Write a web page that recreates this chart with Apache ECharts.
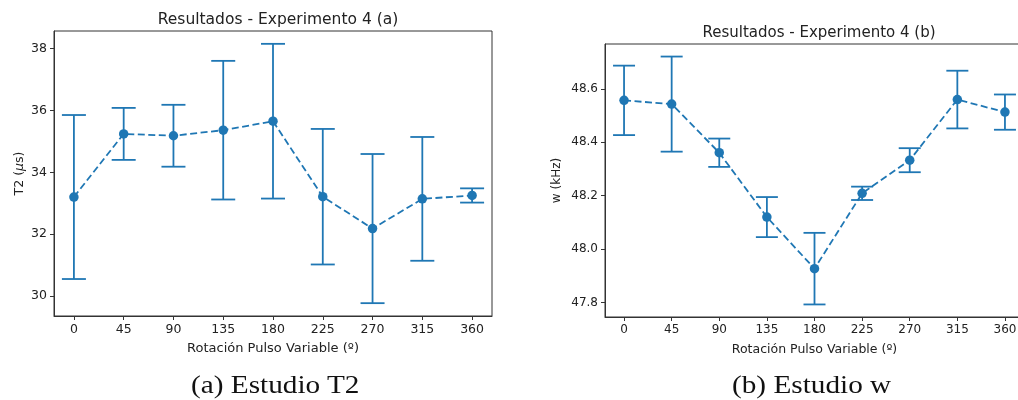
<!DOCTYPE html>
<html>
<head>
<meta charset="utf-8">
<script src="https://cdn.jsdelivr.net/npm/echarts@6/dist/echarts.min.js"></script>
<style>
html,body{margin:0;padding:0;background:#fff;}
#c{width:1018px;height:400px;position:relative;overflow:hidden;}
.cap{position:absolute;font-family:"Liberation Serif","DejaVu Serif",serif;font-size:25px;color:#111;transform-origin:0 0;white-space:nowrap;}
</style>
</head>
<body>
<div id="c"></div>
<script>
// ---- data ----
const angles = [0, 45, 90, 135, 180, 225, 270, 315, 360];
const t2Mean = [33.20, 35.24, 35.18, 35.36, 35.65, 33.21, 32.18, 33.14, 33.25];
const t2Err  = [2.65, 0.84, 1.00, 2.24, 2.50, 2.19, 2.41, 2.00, 0.23];
const wMean  = [48.557, 48.543, 48.361, 48.120, 47.927, 48.209, 48.333, 48.560, 48.513];
const wErr   = [0.130, 0.178, 0.053, 0.075, 0.134, 0.025, 0.045, 0.108, 0.066];
const xTicks = [0, 45, 90, 135, 180, 225, 270, 315, 360];
const t2Ticks = [30, 32, 34, 36, 38];
const wTicks = [47.8, 48.0, 48.2, 48.4, 48.6];
const titleA = 'Resultados - Experimento 4 (a)';
const titleB = 'Resultados - Experimento 4 (b)';
const xName = 'Rotación Pulso Variable (º)';
const captionA = '(a) Estudio T2';
const captionB = '(b) Estudio w';

const C0 = '#1f77b4';
const spine = '#333333';
const txt = '#222222';
const font = 'DejaVu Sans';

function errData(m, e){ return angles.map((a,i)=>[a, m[i]-e[i], m[i]+e[i]]); }
function lineData(m){ return angles.map((a,i)=>[a, m[i]]); }

function errRender(half){
  return function(params, api){
    const x = api.value(0), lo = api.value(1), hi = api.value(2);
    const p1 = api.coord([x, lo]), p2 = api.coord([x, hi]);
    const st = {stroke: C0, lineWidth: 1.8};
    return {type:'group', children:[
      {type:'line', shape:{x1:p1[0],y1:p1[1],x2:p2[0],y2:p2[1]}, style:st},
      {type:'line', shape:{x1:p1[0]-half,y1:p1[1],x2:p1[0]+half,y2:p1[1]}, style:st},
      {type:'line', shape:{x1:p2[0]-half,y1:p2[1],x2:p2[0]+half,y2:p2[1]}, style:st}
    ]};
  };
}

function xAxisDef(idx, fs){
  return {
    type:'value', gridIndex: idx, min:-18, max:378,
    name: xName, nameLocation:'middle', nameGap: 26,
    nameTextStyle:{fontFamily:font, fontSize:fs+0.5, color:txt},
    axisLine:{show:true, onZero:false, lineStyle:{color:spine, width:1}},
    axisTick:{show:true, length:4, customValues: xTicks, lineStyle:{color:spine}},
    axisLabel:{customValues: xTicks, fontFamily:font, fontSize:fs, color:txt, margin:7},
    splitLine:{show:false}
  };
}
function yAxisDef(idx, min, max, ticks, name, gap, dec, fs, rich){
  return {
    type:'value', gridIndex: idx, min:min, max:max,
    name: name, nameLocation:'middle', nameGap: gap, nameRotate: 90,
    nameTextStyle:{fontFamily:font, fontSize:fs, color:txt, rich: rich},
    axisLine:{show:true, onZero:false, lineStyle:{color:spine, width:1}},
    axisTick:{show:true, length:4, customValues: ticks, lineStyle:{color:spine}},
    axisLabel:{customValues: ticks, fontFamily:font, fontSize:fs, color:txt, margin:7,
      formatter: v => dec ? v.toFixed(dec) : String(Math.round(v))},
    splitLine:{show:false}
  };
}

const chart = echarts.init(document.getElementById('c'), null, {renderer:'canvas'});
chart.setOption({
  animation:false,
  backgroundColor:'#fff',
  title:[
    {text:titleA, left:273, top:7, textAlign:'center', textStyle:{fontFamily:font, fontSize:15.5, fontWeight:'normal', color:txt}},
    {text:titleB, left:814, top:21, textAlign:'center', textStyle:{fontFamily:font, fontSize:15, fontWeight:'normal', color:txt}}
  ],
  grid:[
    {left:54, width:438, top:31, height:285, show:true, borderColor:spine, borderWidth:1, containLabel:false, outerBoundsMode:'none'},
    {left:605, width:419, top:44, height:273, show:true, borderColor:spine, borderWidth:1, containLabel:false, outerBoundsMode:'none'}
  ],
  xAxis:[xAxisDef(0, 12.5), xAxisDef(1, 12)],
  yAxis:[
    yAxisDef(0, 29.355, 38.565, t2Ticks, 'T2 ({i|μ}s)', 28, 0, 12.5, {i:{fontStyle:'italic', fontFamily:font, fontSize:12.5, color:txt}}),
    yAxisDef(1, 47.746, 48.768, wTicks, 'w (kHz)', 42, 1, 12, {})
  ],
  series:[
    {type:'custom', xAxisIndex:0, yAxisIndex:0, renderItem: errRender(12), data: errData(t2Mean, t2Err), z:2},
    {type:'line', xAxisIndex:0, yAxisIndex:0, data: lineData(t2Mean), symbol:'circle', symbolSize:9.5,
      lineStyle:{color:C0, width:1.8, type:[7,3.5]}, itemStyle:{color:C0}, z:3},
    {type:'custom', xAxisIndex:1, yAxisIndex:1, renderItem: errRender(11), data: errData(wMean, wErr), z:2},
    {type:'line', xAxisIndex:1, yAxisIndex:1, data: lineData(wMean), symbol:'circle', symbolSize:9.5,
      lineStyle:{color:C0, width:1.8, type:[7,3.5]}, itemStyle:{color:C0}, z:3}
  ]
});

function addCap(text, cx, top){
  const d = document.createElement('div');
  d.className = 'cap'; d.textContent = text;
  d.style.top = top + 'px';
  document.getElementById('c').appendChild(d);
  const w = d.getBoundingClientRect().width * 1.17;
  d.style.transform = 'scaleX(1.17)';
  d.style.left = (cx - w/2) + 'px';
}
addCap(captionA, 275, 371);
addCap(captionB, 812, 371);
</script>
</body>
</html>
